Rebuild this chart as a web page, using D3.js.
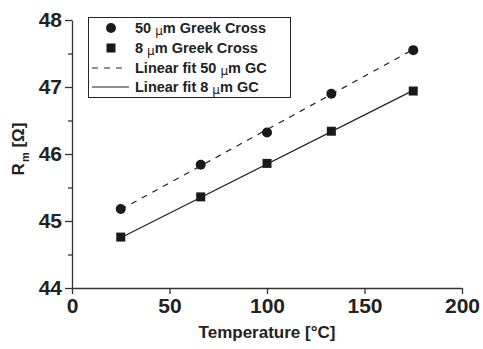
<!DOCTYPE html>
<html>
<head>
<meta charset="utf-8">
<script src="https://cdn.jsdelivr.net/npm/d3@7"></script>
<style>
  body { margin: 0; background: #fff; }
  svg { font-family: "Liberation Sans", Arial, sans-serif; font-weight: bold; }
  .axis path, .axis line { stroke: #333; stroke-width: 1.3; }
  .axis text { font-size: 21px; font-weight: bold; fill: #222; }
</style>
</head>
<body>
<div id="chart"></div>
<script>
const temps = [25, 66, 100, 133, 175];
const r50 = [45.18, 45.84, 46.32, 46.90, 47.55];
const r8 = [44.76, 45.36, 45.86, 46.34, 46.94];
const fitX = [25, 175];
const fit50 = [45.17, 47.56];
const fit8 = [44.75, 46.95];
const xTicks = [0, 50, 100, 150, 200];
const yTicks = [44, 45, 46, 47, 48];
const yMinor = [44.5, 45.5, 46.5, 47.5];
const legendLabels = ["50 ", "8 ", "Linear fit 50 ", "Linear fit 8 "];
const legendTails = ["m Greek Cross", "m Greek Cross", "m GC", "m GC"];

const width = 483, height = 349;
const margin = { t: 20, l: 72, r: 21, b: 61 };
const inner_w = width - margin.l - margin.r;
const inner_h = height - margin.t - margin.b;

const svg = d3.select("#chart").append("svg")
  .attr("width", width).attr("height", height);

const x = d3.scaleLinear().domain([0, 200]).range([0, inner_w]);
const y = d3.scaleLinear().domain([44, 48]).range([inner_h, 0]);

const g = svg.append("g").attr("transform", "translate(" + margin.l + "," + margin.t + ")");

// axes
g.append("g").attr("class", "axis")
  .attr("transform", "translate(0," + inner_h + ")")
  .call(d3.axisBottom(x).tickValues(xTicks).tickSize(6).tickSizeOuter(0).tickPadding(4));
g.append("g").attr("class", "axis")
  .call(d3.axisLeft(y).tickValues(yTicks).tickFormat(d3.format("d")).tickSize(7).tickSizeOuter(0).tickPadding(3));
g.append("g").attr("class", "axis")
  .call(d3.axisLeft(y).tickValues(yMinor).tickSize(4).tickFormat(""))
  .select(".domain").remove();

// fit lines
const line = d3.line().x(d => x(d[0])).y(d => y(d[1]));
g.append("path").datum(d3.zip(fitX, fit50)).attr("d", line)
  .attr("fill", "none").attr("stroke", "#222").attr("stroke-width", 1.2)
  .attr("stroke-dasharray", "6,6");
g.append("path").datum(d3.zip(fitX, fit8)).attr("d", line)
  .attr("fill", "none").attr("stroke", "#222").attr("stroke-width", 1.2);

// markers
g.selectAll(".c").data(d3.zip(temps, r50)).enter().append("circle")
  .attr("cx", d => x(d[0])).attr("cy", d => y(d[1])).attr("r", 5).attr("fill", "#1a1a1a");
g.selectAll(".s").data(d3.zip(temps, r8)).enter().append("rect")
  .attr("x", d => x(d[0]) - 4.5).attr("y", d => y(d[1]) - 4.5)
  .attr("width", 9).attr("height", 9).attr("fill", "#1a1a1a");

// axis titles
svg.append("text").attr("x", 267).attr("y", 338).attr("text-anchor", "middle")
  .attr("font-size", 17).attr("fill", "#222").text("Temperature [°C]");
const yl = svg.append("text").attr("transform", "translate(24,149) rotate(-90)")
  .attr("text-anchor", "middle").attr("font-size", 17).attr("fill", "#222");
yl.append("tspan").text("R");
yl.append("tspan").attr("font-size", 11).attr("dx", 1).attr("dy", 5).text("m");
yl.append("tspan").attr("dy", -5).text(" [Ω]");

// legend
const lg = svg.append("g");
lg.append("rect").attr("x", 88.5).attr("y", 17.5).attr("width", 202).attr("height", 80)
  .attr("fill", "#fff").attr("stroke", "#222").attr("stroke-width", 1);
const rows = [28, 48, 68, 87];
lg.append("circle").attr("cx", 111).attr("cy", rows[0]).attr("r", 5).attr("fill", "#1a1a1a");
lg.append("rect").attr("x", 106.5).attr("y", rows[1] - 4.5).attr("width", 9).attr("height", 9).attr("fill", "#1a1a1a");
lg.append("line").attr("x1", 92).attr("x2", 125).attr("y1", rows[2]).attr("y2", rows[2])
  .attr("stroke", "#222").attr("stroke-width", 1.2).attr("stroke-dasharray", "6,6");
lg.append("line").attr("x1", 92).attr("x2", 129).attr("y1", rows[3]).attr("y2", rows[3])
  .attr("stroke", "#222").attr("stroke-width", 1.2);
legendLabels.forEach((lab, i) => {
  const t = lg.append("text").attr("x", 135).attr("y", rows[i] + 5)
    .attr("font-size", 14.5).attr("fill", "#222");
  t.append("tspan").text(lab);
  t.append("tspan").attr("font-size", 12).attr("font-weight", "normal")
    .attr("font-family", "DejaVu Sans").attr("dy", 2).text("μ");
  t.append("tspan").attr("dy", -2).text(legendTails[i]);
});
</script>
</body>
</html>
